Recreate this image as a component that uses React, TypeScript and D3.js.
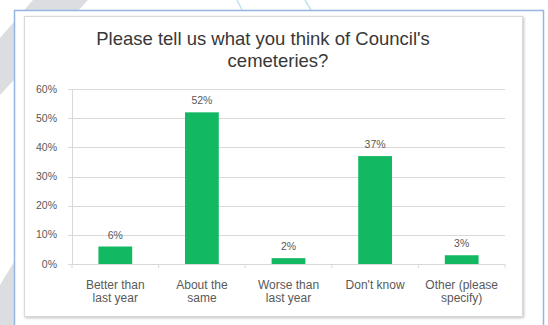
import React from "react";
import * as d3 from "d3";

const title = ["Please tell us what you think of Council's", "cemeteries?"];
const categories = ["Better than|last year", "About the|same", "Worse than|last year", "Don't know", "Other (please|specify)"];
const values = [0.06, 0.52, 0.02, 0.37, 0.03];
const valueLabels = ["6%", "52%", "2%", "37%", "3%"];
const yTicks = [0, 0.1, 0.2, 0.3, 0.4, 0.5, 0.6];

export default function App() {
  const W = 548, H = 325;
  const x0 = 72, x1 = 505, yBottom = 264, yTop = 89;
  const x = d3.scaleBand<string>().domain(categories).range([x0, x1]).paddingInner(0.61).paddingOuter(0.305);
  const y = d3.scaleLinear().domain([0, 0.6]).range([yBottom, yTop]);
  const step = (x1 - x0) / categories.length;
  const fmt = d3.format(".0%");
  const font = "'Liberation Sans', Arial, sans-serif";
  const titleX = [263, 278];
  return (
    <svg width={W} height={H} style={{ position: "absolute", left: 0, top: 0 }} xmlns="http://www.w3.org/2000/svg">
      <defs>
        <filter id="sh" x="-5%" y="-5%" width="110%" height="110%">
          <feGaussianBlur in="SourceAlpha" stdDeviation="1.5" />
          <feOffset dx="1" dy="1" />
          <feComponentTransfer><feFuncA type="linear" slope="0.25" /></feComponentTransfer>
          <feMerge><feMergeNode /><feMergeNode in="SourceGraphic" /></feMerge>
        </filter>
      </defs>
      <rect x={0} y={0} width={W} height={H} fill="#ffffff" />
      <polygon points="33,0 88,0 0,95 0,38" fill="#dcdde0" />
      <polygon points="0,285 14,262 14,325 0,325" fill="#dcdde0" />
      <line x1={237} y1={0} x2={242} y2={10} stroke="#bfe3ee" strokeWidth={1.5} />
      <line x1={305} y1={0} x2={311} y2={10} stroke="#bfe3ee" strokeWidth={1.5} />
      <rect x={14.5} y={10.5} width={529} height={330} fill="#ffffff" stroke="#95b6e0" strokeWidth={1.5} />
      <rect x={24.5} y={16.5} width={498} height={300} fill="#ffffff" stroke="#d9d9d9" strokeWidth={1} filter="url(#sh)" />
      {title.map((t, i) => (
        <text key={i} x={titleX[i]} y={45 + i * 22} textAnchor="middle" fontFamily={font} fontSize={18.5} fill="#383838">{t}</text>
      ))}
      {yTicks.map((t) => (
        <g key={t}>
          <line x1={x0 - 4} x2={x1} y1={Math.round(y(t)) + 0.5} y2={Math.round(y(t)) + 0.5} stroke="#d9d9d9" strokeWidth={1} />
          <text x={57} y={y(t) + 3.5} textAnchor="end" fontFamily={font} fontSize={10.5} fill="#595959">{fmt(t)}</text>
        </g>
      ))}
      <line x1={x0 + 0.5} x2={x0 + 0.5} y1={yTop} y2={yBottom} stroke="#d9d9d9" strokeWidth={1} />
      {d3.range(categories.length + 1).map((i) => (
        <line key={i} x1={x0 + i * step} x2={x0 + i * step} y1={yBottom} y2={yBottom + 4} stroke="#d9d9d9" strokeWidth={1} />
      ))}
      {categories.map((c, i) => (
        <g key={c}>
          <rect x={x(c)} y={y(values[i])} width={x.bandwidth()} height={yBottom - y(values[i])} fill="#12b862" />
          <text x={(x(c) as number) + x.bandwidth() / 2} y={y(values[i]) - 8} textAnchor="middle" fontFamily={font} fontSize={10.5} fill="#595959">{valueLabels[i]}</text>
          {c.split("|").map((line, j) => (
            <text key={j} x={(x(c) as number) + x.bandwidth() / 2} y={289 + j * 13} textAnchor="middle" fontFamily={font} fontSize={12} fill="#595959">{line}</text>
          ))}
        </g>
      ))}
    </svg>
  );
}
